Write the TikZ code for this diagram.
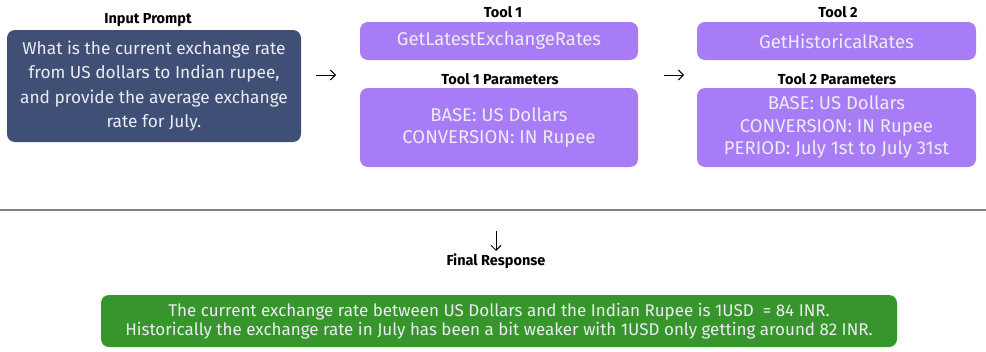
\documentclass[tikz,border=0pt]{standalone}
\usepackage{fontspec}
\setmainfont{Fira Sans}
\usepackage{tikz}
\usetikzlibrary{arrows.meta, positioning}

\definecolor{promptblue}{HTML}{3F4F76}
\definecolor{toolpurple}{HTML}{A87CF6}
\definecolor{answergreen}{HTML}{36962B}
\definecolor{boxtext}{HTML}{ECECF2}

\begin{document}
\begin{tikzpicture}[x=1pt, y=-1pt,
		box/.style={rounded corners=8pt, align=center, text=boxtext, inner sep=0pt},
		title/.style={font=\fontsize{14.5}{16}\selectfont\bfseries},
		flow/.style={-{Straight Barb[length=5pt, width=10pt]}, line width=1pt}]
				\useasboundingbox (0, 0) rectangle (986, 351);

				\node (InTitle) [title] at (148, 20) {Input Prompt};
				\node (In) [box, fill=promptblue, minimum width=294, minimum height=112,
					font=\fontsize{17.3}{24.5}\selectfont] at (154, 86)
					{What is the current exchange rate\\from US dollars to Indian rupee,\\and provide the average exchange\\rate for July.};

				\coordinate (ArrA) at (316, 75);
				\coordinate (ArrB) at (336, 75);
				\draw [flow] (ArrA) -- (ArrB);

				\node (T1Title) [title] at (503, 12) {Tool 1};
				\node (T1) [box, fill=toolpurple, minimum width=278, minimum height=38,
					font=\fontsize{18.5}{22.5}\selectfont] at (499, 41) {GetLatestExchangeRates};
				\node (P1Title) [title] at (500, 79) {Tool 1 Parameters};
				\node (P1) [box, fill=toolpurple, minimum width=278, minimum height=79,
					font=\fontsize{18.5}{22.5}\selectfont] at (499, 127.5)
					{BASE: US Dollars\\CONVERSION: IN Rupee};

				\coordinate (ArrC) at (664, 75);
				\coordinate (ArrD) at (684, 75);
				\draw [flow] (ArrC) -- (ArrD);

				\node (T2Title) [title] at (838, 12) {Tool 2};
				\node (T2) [box, fill=toolpurple, minimum width=279, minimum height=38,
					font=\fontsize{18.5}{22.5}\selectfont] at (836.5, 41) {GetHistoricalRates};
				\node (P2Title) [title] at (837, 79) {Tool 2 Parameters};
				\node (P2) [box, fill=toolpurple, minimum width=279, minimum height=79,
					font=\fontsize{18.5}{22.5}\selectfont] at (836.5, 127.5)
					{BASE: US Dollars\\CONVERSION: IN Rupee\\PERIOD: July 1st to July 31st};

				\coordinate (RuleL) at (0, 210);
				\coordinate (RuleR) at (986, 210);
				\draw [gray, line width=1.3pt] (RuleL) -- (RuleR);

				\coordinate (ArrE) at (496, 231);
				\coordinate (ArrF) at (496, 251);
				\draw [flow] (ArrE) -- (ArrF);

				\node (OutTitle) [title] at (496, 261) {Final Response};
				\node (Out) [box, fill=answergreen, minimum width=796, minimum height=52,
					font=\fontsize{17}{18.5}\selectfont] at (499, 321)
					{The current exchange rate between US Dollars and the Indian Rupee is 1USD\ \ = 84 INR.\\Historically the exchange rate in July has been a bit weaker with 1USD only getting around 82 INR.};
			\end{tikzpicture}
\end{document}
